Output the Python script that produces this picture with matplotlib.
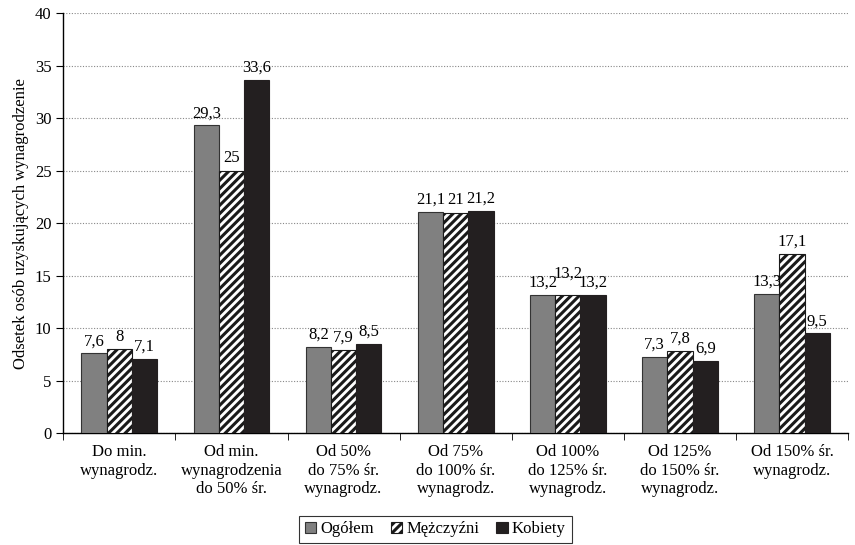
import matplotlib
matplotlib.use("Agg")
import matplotlib.pyplot as plt
import numpy as np

plt.rcParams['font.family'] = ['Liberation Serif', 'DejaVu Serif']
plt.rcParams['hatch.linewidth'] = 2.2

categories = ["Do min.\nwynagrodz.", "Od min.\nwynagrodzenia\ndo 50% śr.",
              "Od 50%\ndo 75% śr.\nwynagrodz.", "Od 75%\ndo 100% śr.\nwynagrodz.",
              "Od 100%\ndo 125% śr.\nwynagrodz.", "Od 125%\ndo 150% śr.\nwynagrodz.",
              "Od 150% śr.\nwynagrodz."]
ogolem = [7.6, 29.3, 8.2, 21.1, 13.2, 7.3, 13.3]
mezczyzni = [8, 25, 7.9, 21, 13.2, 7.8, 17.1]
kobiety = [7.1, 33.6, 8.5, 21.2, 13.2, 6.9, 9.5]

def fmt(v):
    return ("%g" % v).replace(".", ",")

fig = plt.figure(figsize=(8.55, 5.45), dpi=100)
ax = fig.add_axes([0.074, 0.205, 0.918, 0.771])

x = np.arange(len(categories))
w = 0.225
b1 = ax.bar(x - w, ogolem, w, color="#808080", edgecolor="#333333", linewidth=0.8, label="Ogółem", zorder=3)
b2 = ax.bar(x, mezczyzni, w, color="white", edgecolor="#1a1a1a", hatch="////", linewidth=0.8, label="Mężczyźni", zorder=3)
b3 = ax.bar(x + w, kobiety, w, color="#231f20", edgecolor="#231f20", linewidth=0.8, label="Kobiety", zorder=3)

for bars, vals in [(b1, ogolem), (b2, mezczyzni), (b3, kobiety)]:
    for i, (r, v) in enumerate(zip(bars, vals)):
        dy = 0.4
        # middle label raised when it would collide with its neighbours
        if bars is b2 and len(fmt(v)) >= 4 and abs(v - ogolem[i]) < 0.5:
            dy = 1.2
        ax.text(r.get_x() + r.get_width() / 2, v + dy, fmt(v), ha="center", va="bottom", fontsize=12)

ax.set_xlim(-0.5, len(categories) - 0.5)
ax.set_ylim(0, 40)
ax.set_yticks(range(0, 41, 5))
ax.tick_params(axis="y", labelsize=12, direction="out", length=5)
ax.set_xticks(x)
ax.set_xticklabels(categories, fontsize=12)
ax.tick_params(axis="x", length=0, pad=8)
ax.set_xticks(np.arange(-0.5, len(categories), 1), minor=True)
ax.tick_params(axis="x", which="minor", length=5, direction="out")
ax.yaxis.grid(True, linestyle=(0, (1, 1.5)), color="#888888", linewidth=0.8, zorder=0)
ax.spines["top"].set_visible(False)
ax.spines["right"].set_visible(False)
ax.spines["left"].set_linewidth(1.0)
ax.spines["bottom"].set_linewidth(1.0)
ax.set_ylabel("Odsetek osób uzyskujących wynagrodzenie", fontsize=12)

leg = fig.legend(loc="lower center", bbox_to_anchor=(0.509, -0.012), ncol=3, frameon=True, fancybox=False,
                 edgecolor="black", fontsize=12, handlelength=0.7, handleheight=0.7, handletextpad=0.25,
                 columnspacing=1.0, borderpad=0.35)
leg.get_frame().set_linewidth(0.8)

fig.savefig("out.png", dpi=100)
